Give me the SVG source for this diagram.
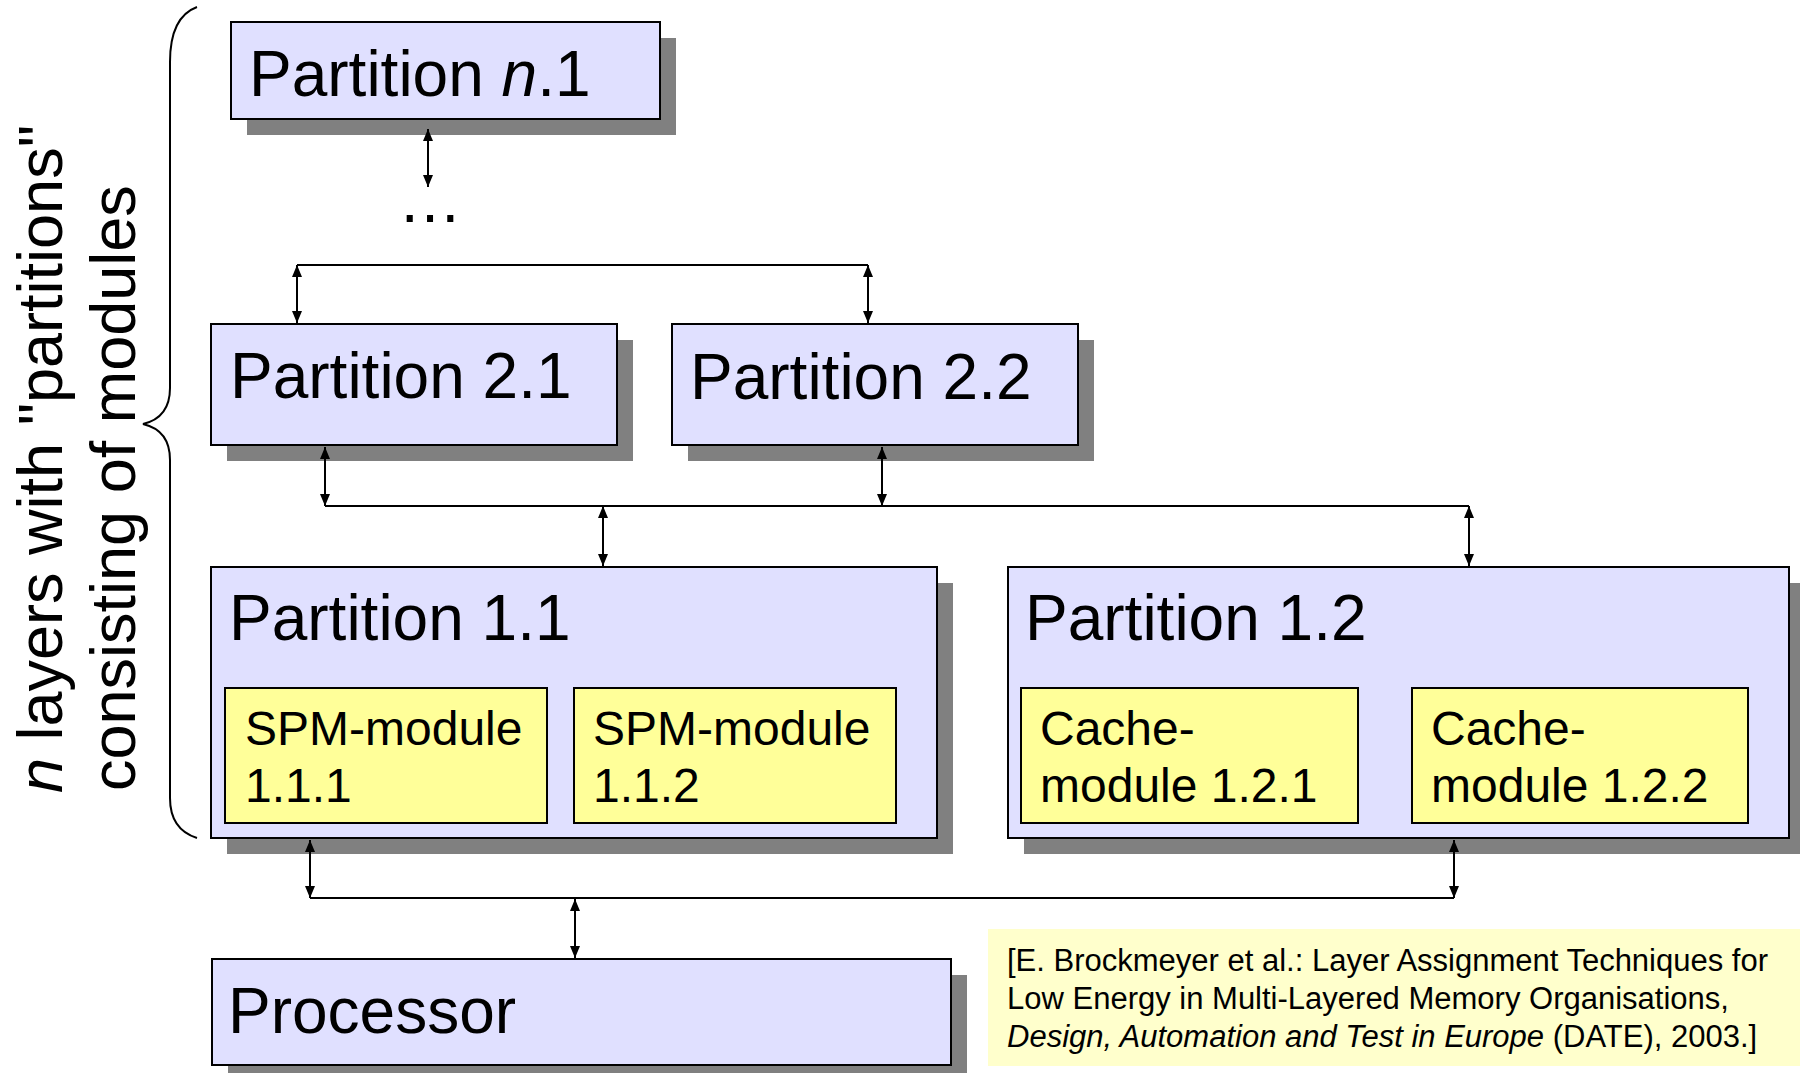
<svg xmlns="http://www.w3.org/2000/svg" width="1800" height="1073" viewBox="0 0 1800 1073">
  <defs>
    <marker id="head" viewBox="0 0 12 10" refX="12" refY="5" markerWidth="12" markerHeight="10" markerUnits="userSpaceOnUse" orient="auto-start-reverse">
      <path d="M0,0 L12,5 L0,10 z" fill="#000"/>
    </marker>
    <style>
      .shadow { fill: #808080; }
      .part { fill: #E0E0FF; stroke: #000; stroke-width: 2; }
      .mod { fill: #FFFF99; stroke: #000; stroke-width: 2; }
      .title { font-family: "Liberation Sans", Arial, sans-serif; font-size: 64px; fill: #000; }
      .side { font-family: "Liberation Sans", Arial, sans-serif; font-size: 63px; fill: #000; }
      .modtxt { font-family: "Liberation Sans", Arial, sans-serif; font-size: 48px; fill: #000; }
      .cite { font-family: "Liberation Sans", Arial, sans-serif; font-size: 31px; fill: #000; }
      .bus { fill: none; stroke: #000; stroke-width: 2; }
      .arr { fill: none; stroke: #000; stroke-width: 2; marker-start: url(#head); marker-end: url(#head); }
      .brace { fill: none; stroke: #000; stroke-width: 2; }
    </style>
  </defs>

  <rect width="1800" height="1073" fill="#fff"/>

  <!-- side caption with brace -->
  <g id="caption">
    <text class="side" transform="translate(62,793) rotate(-90)"><tspan font-style="italic">n</tspan> layers with "partitions"</text>
    <text class="side" transform="translate(135,791) rotate(-90)">consisting of modules</text>
    <path class="brace" d="M197,7 C178,14 170,35 170,62 L170,388 C170,408 160,420 143,424 C160,428 170,440 170,460 L170,798 C170,818 178,832 197,838"/>
  </g>

  <g id="partition-n1">
    <rect class="shadow" x="247" y="38" width="429" height="97"/>
    <rect class="part" x="231" y="22" width="429" height="97"/>
    <text class="title" x="249" y="96">Partition <tspan font-style="italic">n</tspan>.1</text>
  </g>

  <g id="ellipsis">
    <text class="title" x="398" y="222">…</text>
  </g>

  <g id="partition-21">
    <rect class="shadow" x="227" y="340" width="406" height="121"/>
    <rect class="part" x="211" y="324" width="406" height="121"/>
    <text class="title" x="230" y="398">Partition 2.1</text>
  </g>

  <g id="partition-22">
    <rect class="shadow" x="688" y="340" width="406" height="121"/>
    <rect class="part" x="672" y="324" width="406" height="121"/>
    <text class="title" x="690" y="399">Partition 2.2</text>
  </g>

  <g id="partition-11">
    <rect class="shadow" x="227" y="583" width="726" height="271"/>
    <rect class="part" x="211" y="567" width="726" height="271"/>
    <text class="title" x="229" y="640">Partition 1.1</text>
  </g>

  <g id="spm-111">
    <rect class="mod" x="225" y="688" width="322" height="135"/>
    <text class="modtxt" x="245" y="745">SPM-module</text>
    <text class="modtxt" x="245" y="802">1.1.1</text>
  </g>

  <g id="spm-112">
    <rect class="mod" x="574" y="688" width="322" height="135"/>
    <text class="modtxt" x="593" y="745">SPM-module</text>
    <text class="modtxt" x="593" y="802">1.1.2</text>
  </g>

  <g id="partition-12">
    <rect class="shadow" x="1024" y="583" width="781" height="271"/>
    <rect class="part" x="1008" y="567" width="781" height="271"/>
    <text class="title" x="1025" y="640">Partition 1.2</text>
  </g>

  <g id="cache-121">
    <rect class="mod" x="1021" y="688" width="337" height="135"/>
    <text class="modtxt" x="1040" y="745">Cache-</text>
    <text class="modtxt" x="1040" y="802">module 1.2.1</text>
  </g>

  <g id="cache-122">
    <rect class="mod" x="1412" y="688" width="336" height="135"/>
    <text class="modtxt" x="1431" y="745">Cache-</text>
    <text class="modtxt" x="1431" y="802">module 1.2.2</text>
  </g>

  <g id="processor">
    <rect class="shadow" x="228" y="975" width="739" height="106"/>
    <rect class="part" x="212" y="959" width="739" height="106"/>
    <text class="title" x="228" y="1033">Processor</text>
  </g>

  <g id="citation">
    <rect x="988" y="929" width="812" height="137" fill="#FFFFCC"/>
    <text class="cite" x="1007" y="971">[E. Brockmeyer et al.: Layer Assignment Techniques for</text>
    <text class="cite" x="1007" y="1009">Low Energy in Multi-Layered Memory Organisations,</text>
    <text class="cite" x="1007" y="1047"><tspan font-style="italic">Design, Automation and Test in Europe</tspan> (DATE), 2003.]</text>
  </g>

  <g id="connectors">
    <path class="bus" d="M297,265 H868"/>
    <path class="bus" d="M325,506 H1469"/>
    <path class="bus" d="M310,898 H1454"/>
    <path class="arr" d="M428,129 V187"/>
    <path class="arr" d="M297,265 V323"/>
    <path class="arr" d="M868,265 V323"/>
    <path class="arr" d="M325,447 V506"/>
    <path class="arr" d="M882,447 V506"/>
    <path class="arr" d="M603,506 V566"/>
    <path class="arr" d="M1469,506 V566"/>
    <path class="arr" d="M310,840 V898"/>
    <path class="arr" d="M1454,840 V898"/>
    <path class="arr" d="M575,899 V958"/>
  </g>
</svg>
